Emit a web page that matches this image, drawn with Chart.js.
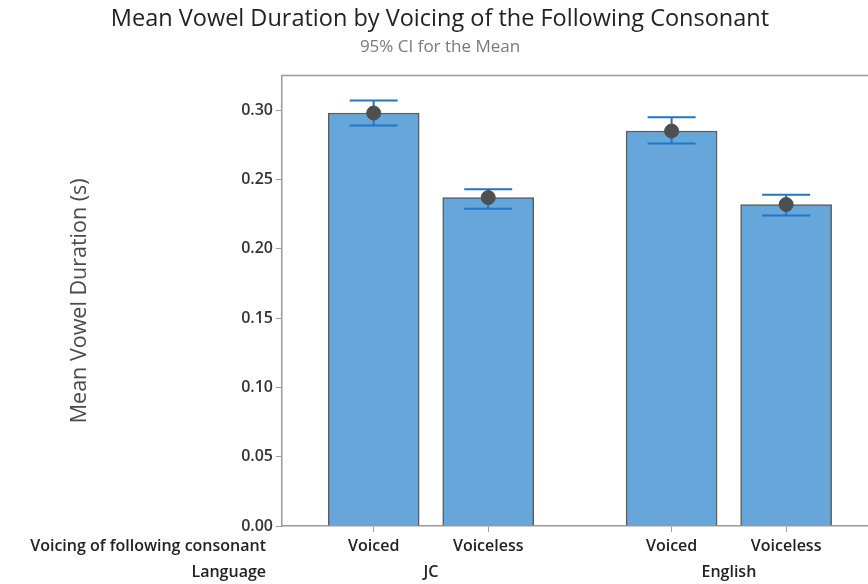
<!DOCTYPE html>
<html>
<head>
<meta charset="utf-8">
<script src="https://cdn.jsdelivr.net/npm/chart.js@4"></script>
<style>
  html, body { margin: 0; padding: 0; background: #ffffff; overflow: hidden; }
  #wrap { width: 868px; height: 584px; position: relative; }
</style>
</head>
<body>
<div id="wrap"><canvas id="chart"></canvas></div>
<script>
// Languages (groups) and voicing of the following consonant (bars within a group)
const languages = ['JC', 'English'];
const voicings = ['Voiced', 'Voiceless'];

// Mean vowel duration (s), one value per language
const meanVoiced = [0.298, 0.285];
const meanVoiceless = [0.237, 0.232];

// 95% confidence interval [low, high] for each mean
const ciVoiced = [[0.289, 0.307], [0.276, 0.295]];
const ciVoiceless = [[0.229, 0.243], [0.224, 0.239]];

// Y axis tick values
const yTicks = [0.00, 0.05, 0.10, 0.15, 0.20, 0.25, 0.30];

// Layout of bars on the x scale: each language is one unit wide,
// the two voicings sit on either side of its centre.
const SLOT_OFFSET = 0.1922;
const X_MIN = -0.5;
const X_MAX = 1.467;

const FONT = '"Open Sans", "Noto Sans", sans-serif';

// Build one flat list of bars from the arrays above
const bars = [];
languages.forEach((lang, g) => {
  const means = [meanVoiced[g], meanVoiceless[g]];
  const cis = [ciVoiced[g], ciVoiceless[g]];
  voicings.forEach((v, k) => {
    bars.push({
      x: g + (k === 0 ? -SLOT_OFFSET : SLOT_OFFSET),
      y: means[k],
      ci: cis[k],
      voicing: v,
      group: g
    });
  });
});

// Draws the CI whiskers on top of the bars
const errorBars = {
  id: 'errorBars',
  afterDatasetDraw(chart, args) {
    if (args.index !== 0) return;
    const { ctx, scales: { x, y } } = chart;
    ctx.save();
    ctx.strokeStyle = '#1f77c8';
    ctx.lineWidth = 2;
    const half = 24;
    bars.forEach(b => {
      const px = x.getPixelForValue(b.x);
      const lo = y.getPixelForValue(b.ci[0]);
      const hi = y.getPixelForValue(b.ci[1]);
      ctx.beginPath();
      ctx.moveTo(px, lo); ctx.lineTo(px, hi);
      ctx.moveTo(px - half, lo); ctx.lineTo(px + half, lo);
      ctx.moveTo(px - half, hi); ctx.lineTo(px + half, hi);
      ctx.stroke();
    });
    ctx.restore();
  }
};

// Top frame line and the two rows of category labels under the x axis
const frameAndLabels = {
  id: 'frameAndLabels',
  afterDraw(chart) {
    const { ctx, chartArea, scales: { x } } = chart;
    ctx.save();
    ctx.strokeStyle = '#9a9a9a';
    ctx.lineWidth = 1.5;
    ctx.beginPath();
    ctx.moveTo(chartArea.left, chartArea.top);
    ctx.lineTo(chart.width, chartArea.top);
    ctx.stroke();

    ctx.fillStyle = '#222222';
    ctx.font = '600 16px ' + FONT;
    ctx.textBaseline = 'middle';
    const row1 = chartArea.bottom + 20;
    const row2 = chartArea.bottom + 46;
    const headX = 266;
    ctx.textAlign = 'right';
    ctx.fillText('Voicing of following consonant', headX, row1);
    ctx.fillText('Language', headX, row2);
    ctx.textAlign = 'center';
    bars.forEach(b => ctx.fillText(b.voicing, x.getPixelForValue(b.x), row1));
    languages.forEach((lang, g) => ctx.fillText(lang, x.getPixelForValue(g), row2));
    ctx.restore();
  }
};

new Chart(document.getElementById('chart'), {
  type: 'bar',
  data: {
    datasets: [
      {
        type: 'bar',
        data: bars.map(b => ({ x: b.x, y: b.y })),
        backgroundColor: '#66a6da',
        borderColor: '#5c5c5c',
        borderWidth: 1.5,
        barThickness: 91,
        order: 2
      },
      {
        type: 'line',
        data: bars.map(b => ({ x: b.x, y: b.y })),
        showLine: false,
        pointRadius: 7,
        pointHoverRadius: 7,
        pointBackgroundColor: '#4f4f4f',
        pointBorderColor: '#4f4f4f',
        order: 1
      }
    ]
  },
  options: {
    responsive: true,
    maintainAspectRatio: false,
    animation: false,
    layout: { autoPadding: false, padding: { left: 12, right: 0, top: 0, bottom: 0 } },
    plugins: {
      legend: { display: false },
      tooltip: { enabled: false },
      title: {
        display: true,
        text: 'Mean Vowel Duration by Voicing of the Following Consonant',
        color: '#222222',
        font: { family: FONT, size: 23.5, weight: 'normal', lineHeight: 1.2 },
        padding: { top: 5, bottom: 0 }
      },
      subtitle: {
        display: true,
        text: '95% CI for the Mean',
        color: '#7a7a7a',
        font: { family: FONT, size: 17, weight: 'normal', lineHeight: 1.2 },
        padding: { top: 4, bottom: 18 }
      }
    },
    scales: {
      x: {
        type: 'linear',
        min: X_MIN,
        max: X_MAX,
        offset: false,
        bounds: 'data',
        afterBuildTicks: s => { s.ticks = bars.map(b => ({ value: b.x })); },
        afterFit: s => { s.height = 58; },
        ticks: { display: false },
        grid: { display: true, offset: false, drawOnChartArea: false, drawTicks: true, tickLength: 6, color: '#9a9a9a', lineWidth: 1 },
        border: { display: true, color: '#9a9a9a', width: 1.5 }
      },
      y: {
        min: 0,
        max: 0.325,
        afterBuildTicks: s => { s.ticks = yTicks.map(v => ({ value: v })); },
        afterFit: s => { s.width = 270; },
        ticks: {
          color: '#333333',
          font: { family: FONT, size: 16, weight: '600' },
          padding: 3,
          callback: v => Number(v).toFixed(2)
        },
        grid: { display: true, drawOnChartArea: false, drawTicks: true, tickLength: 6, color: '#9a9a9a' },
        border: { display: true, color: '#9a9a9a', width: 1.5 },
        title: {
          display: true,
          text: 'Mean Vowel Duration (s)',
          color: '#4a4a4a',
          font: { family: FONT, size: 21.5, weight: '500', lineHeight: 1.2 },
          padding: { top: 55, bottom: 0 }
        }
      }
    }
  },
  plugins: [errorBars, frameAndLabels]
});
</script>
</body>
</html>
